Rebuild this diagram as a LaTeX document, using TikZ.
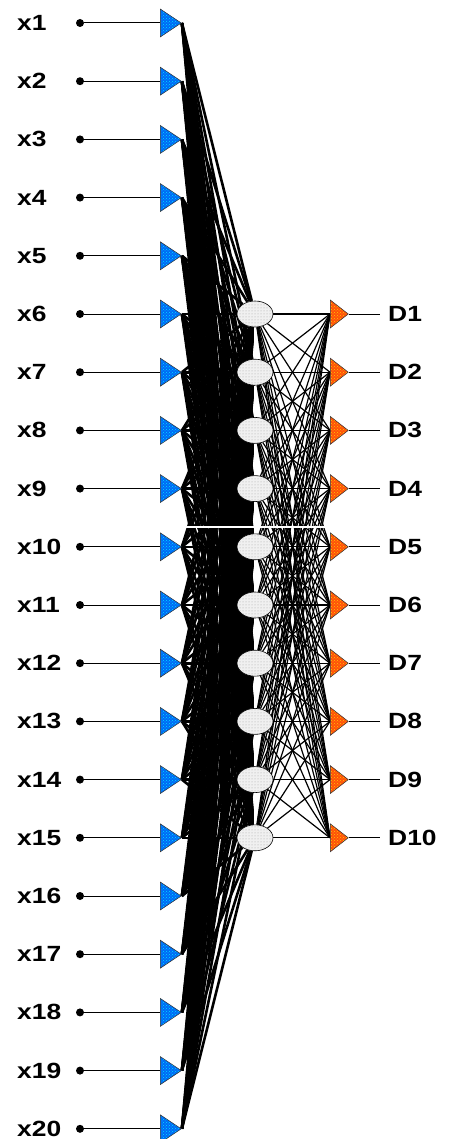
\documentclass[tikz,border=0pt]{standalone}
\usepackage{fontspec}
\setmainfont{Liberation Sans}[FakeStretch=1.2]
\usetikzlibrary{shapes.geometric,patterns}
\pgfdeclarelayer{bg}
\pgfsetlayers{bg,main}
\definecolor{inblue}{RGB}{0,105,245}
\definecolor{indot}{RGB}{0,225,255}
\definecolor{outor}{RGB}{255,80,10}
\definecolor{outdot}{RGB}{255,200,0}
\begin{document}
\begin{tikzpicture}[x=1pt,y=-1pt,
  lab/.style={font=\fontsize{22}{24}\selectfont\bfseries, inner sep=0pt, anchor=west},
  dotn/.style={circle, fill=black, inner sep=0pt, minimum size=8pt},
  intri/.style={isosceles triangle, isosceles triangle stretches, inner sep=0pt,
    minimum height=21pt, minimum width=28pt, draw=black!80, line width=0.5pt,
    preaction={fill=inblue}, pattern=crosshatch dots, pattern color=indot},
  outtri/.style={isosceles triangle, isosceles triangle stretches, inner sep=0pt,
    minimum height=18pt, minimum width=28pt, draw=black!80, line width=0.5pt,
    preaction={fill=outor}, pattern=crosshatch dots, pattern color=outdot},
  hid/.style={ellipse, minimum width=36pt, minimum height=26pt, inner sep=0pt,
    draw=black, line width=0.6pt, preaction={fill=gray!12}, pattern=dots, pattern color=gray!70},
  fan/.style={line width=2.6pt, black},
  conn/.style={line width=1.2pt, black},
  wire/.style={line width=1pt, black}]
\useasboundingbox (0,0) rectangle (451,1139);

% input layer
\foreach \i in {1,...,20} {
  \pgfmathsetmacro\yy{23+(\i-1)*58.2}
  \node[lab] (l\i) at (17,\yy) {x\i};
  \node[dotn] (d\i) at (80,\yy) {};
  \node[intri, anchor=west] (t\i) at (160,\yy) {};
  \draw[wire] (d\i) -- (t\i.west);
}

% hidden and output layers
\foreach \j in {1,...,10} {
  \pgfmathsetmacro\yy{23+(\j+4)*58.2}
  \node[hid] (h\j) at (255,\yy) {};
  \node[outtri, anchor=west] (o\j) at (330,\yy) {};
  \coordinate (e\j) at (380,\yy);
  \node[lab] (D\j) at (388,\yy) {D\j};
  \draw[wire] (o\j.apex) -- (e\j);
}

\begin{pgfonlayer}{bg}
  \foreach \i in {1,...,20}
    \foreach \j in {1,...,10}
      \draw[fan] (t\i.apex) -- (h\j);
  \foreach \j in {1,...,10}
    \foreach \k in {1,...,10}
      \draw[conn] (h\j) -- (o\k.west);
  % light separators through the weights
  \foreach \j [evaluate=\j as \n using int(\j+1)] in {1,...,9}
    \draw[white, line width=2.5pt] (h\j.south) -- (h\n.north);
  \coordinate (s1) at (183,527);
  \coordinate (s2) at (327,527);
  \draw[white, line width=1.2pt] (s1) -- (s2);
\end{pgfonlayer}
\end{tikzpicture}
\end{document}
